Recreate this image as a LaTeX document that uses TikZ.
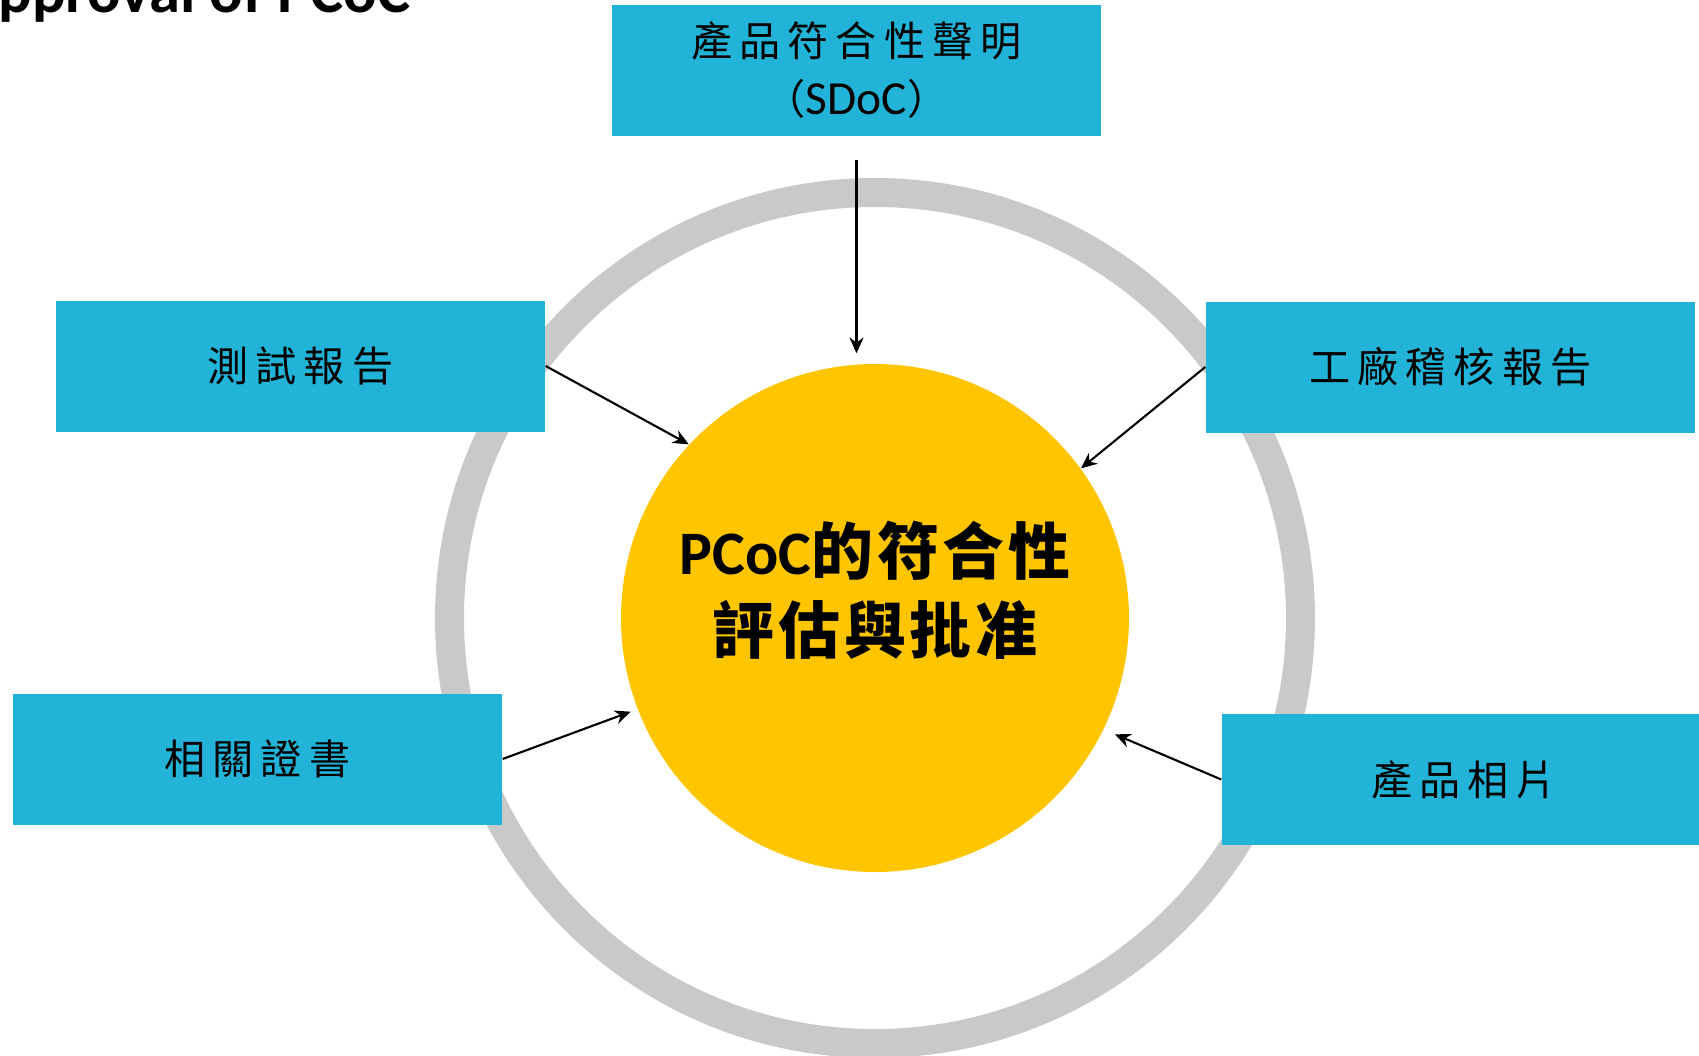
\documentclass[tikz,border=0pt]{standalone}
\usepackage{fontspec}
\setmainfont{Carlito}
\newfontfamily\cjk[LetterSpace=17]{Noto Sans CJK TC}
\newfontfamily\cjkb[LetterSpace=6]{Noto Sans CJK TC}
\usepackage{tikz}
\usetikzlibrary{arrows.meta}
\definecolor{boxblue}{RGB}{34,180,216}
\definecolor{pcocyellow}{RGB}{255,198,0}
\definecolor{ringgray}{RGB}{200,201,203}

\begin{document}
\begin{tikzpicture}[
    box/.style={fill=boxblue, minimum width=4.89cm, minimum height=1.31cm, inner sep=0pt, align=center, font=\fontsize{11.7}{15.6}\selectfont\cjk},
    arr/.style={-{Stealth[length=4.5pt, width=4pt]}, line width=0.6pt}
  ]
    \useasboundingbox (0, 0) rectangle (16.99, 10.55);
    \clip (0, 0) rectangle (16.99, 10.55);
    \node [anchor=base west, inner sep=0pt, font=\fontsize{17.8}{20}\selectfont\bfseries] (title) at (-0.02, 10.43) {pproval of PCoC};
    \node [circle, draw=ringgray, line width=0.29cm, minimum size=8.51cm, inner sep=0pt] (ring) at (8.75, 4.37) {};
    \node [circle, fill=pcocyellow, minimum size=5.08cm, inner sep=0pt] (pcoc) at (8.75, 4.37) {};
    \node [align=center, font=\fontsize{17.6}{22.5}\selectfont\bfseries] (pcoctext) at ([yshift=0.28cm] pcoc.center) {PCoC{\cjkb 的符合性}\\{\cjkb 評估與批准}};
    \node [box] (sdoc) at (8.565, 9.85) {產品符合性聲明\\[1pt]（{\fontspec{Carlito}\fontsize{13.5}{15.6}\selectfont SDoC}）};
    \node [box] (test) at (3.005, 6.89) {測試報告};
    \node [box] (audit) at (14.505, 6.88) {工廠稽核報告};
    \node [box] (cert) at (2.575, 2.96) {相關證書};
    \node [box, minimum width=4.84cm] (photo) at (14.64, 2.755) {產品相片};
    \draw [arr, shorten <=0.24cm, shorten >=0.1cm] (sdoc.south) -- (sdoc.south |- pcoc.north);
    \draw [arr] (test.east) -- (pcoc.137);
    \draw [arr] (audit.west) -- (pcoc.36);
    \draw [arr, shorten >=0.07cm] (cert.east) -- (pcoc.201);
    \draw [arr, shorten >=0.12cm] (photo.west) -- (pcoc.334);
\end{tikzpicture}
\end{document}
